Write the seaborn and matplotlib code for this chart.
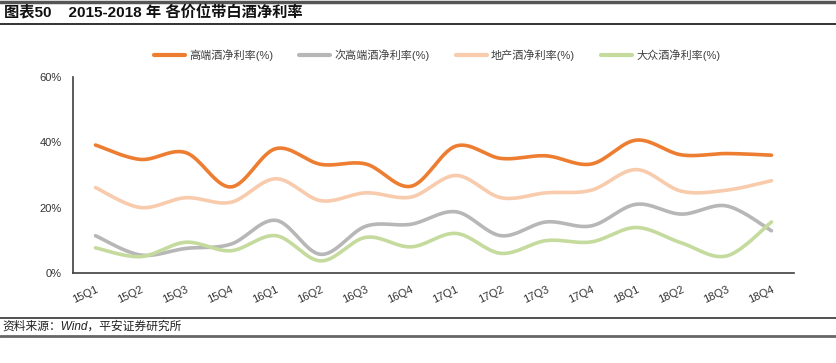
import numpy as np
import pandas as pd
import seaborn as sns
import matplotlib.pyplot as plt
from matplotlib.lines import Line2D

quarters = ["15Q1", "15Q2", "15Q3", "15Q4", "16Q1", "16Q2", "16Q3", "16Q4",
            "17Q1", "17Q2", "17Q3", "17Q4", "18Q1", "18Q2", "18Q3", "18Q4"]
high_end = [39.2, 34.8, 36.9, 26.4, 38.1, 33.3, 33.4, 26.6,
            38.9, 35.1, 35.9, 33.4, 40.7, 36.2, 36.6, 36.1]
sub_high = [11.5, 5.6, 7.6, 8.9, 16.2, 5.8, 14.4, 15.0,
            18.8, 11.5, 15.7, 14.5, 21.1, 18.1, 20.6, 13.0]
regional = [26.2, 20.1, 23.1, 21.7, 28.9, 22.2, 24.6, 23.3,
            29.9, 23.1, 24.6, 25.4, 31.7, 25.1, 25.4, 28.3]
mass = [7.8, 5.1, 9.5, 6.9, 11.5, 3.8, 11.0, 8.1,
        12.2, 6.1, 10.0, 9.6, 14.0, 9.3, 5.3, 15.7]

names = ["高端酒净利率(%)", "次高端酒净利率(%)", "地产酒净利率(%)", "大众酒净利率(%)"]
colors = ["#ED7D31", "#B7B7B7", "#F8CBAD", "#C5DB9E"]

sns.set_theme(style="white")
plt.rcParams['font.family'] = ['Liberation Sans', 'Noto Sans CJK SC']


def smooth(values, steps=20):
    # excel-like smoothed line (catmull-rom bezier)
    p = np.column_stack([np.arange(len(values)), values]).astype(float)
    p = np.vstack([p[0], p, p[-1]])
    out = []
    t = np.linspace(0, 1, steps)[:, None]
    for i in range(1, len(p) - 2):
        p0, p1, p2, p3 = p[i - 1], p[i], p[i + 1], p[i + 2]
        c1 = p1 + (p2 - p0) / 6
        c2 = p2 - (p3 - p1) / 6
        seg = ((1 - t) ** 3) * p1 + 3 * ((1 - t) ** 2) * t * c1 + 3 * (1 - t) * t ** 2 * c2 + t ** 3 * p2
        out.append(seg if i == 1 else seg[1:])
    seg = np.vstack(out)
    return seg[:, 0], seg[:, 1]


fig = plt.figure(figsize=(8.36, 3.63), dpi=100)
ax = fig.add_axes([0.0873, 0.247, 0.8625, 0.541])

frames = []
for name, vals in zip(names, [high_end, sub_high, regional, mass]):
    xs, ys = smooth(vals)
    frames.append(pd.DataFrame({"x": xs, "y": ys, "series": name}))
df = pd.concat(frames)

sns.lineplot(data=df, x="x", y="y", hue="series", palette=dict(zip(names, colors)),
             sort=False, estimator=None, linewidth=2.6, ax=ax, legend=False)

ax.set_xlim(-0.5, len(quarters) - 0.5)
ax.set_ylim(0, 60)
ax.set_xticks(range(len(quarters)))
ax.set_xticklabels(quarters, rotation=25, fontsize=8, color="#333333",
                   ha="right", rotation_mode="anchor")
ax.set_yticks([0, 20, 40, 60])
ax.set_yticklabels(["0%", "20%", "40%", "60%"], fontsize=8, color="#333333")
ax.tick_params(axis="y", length=0, pad=8)
ax.tick_params(axis="x", length=0, pad=8)
ax.set_xlabel("")
ax.set_ylabel("")
for s in ["top", "right"]:
    ax.spines[s].set_visible(False)
ax.spines["left"].set_color("#404040")
ax.spines["bottom"].set_color("#404040")
ax.spines["left"].set_linewidth(1.2)
ax.spines["bottom"].set_linewidth(1.2)

handles = [Line2D([0], [0], color=c, lw=3) for c in colors]
fig.legend(handles, names, loc="center", bbox_to_anchor=(0.523, 0.848), ncol=4,
           frameon=False, fontsize=8, handlelength=2.8, columnspacing=2.3,
           handletextpad=0.4, labelcolor="#404040")

# header / footer rules
fig.add_artist(Line2D([0, 1], [0.995, 0.995], color="#555555", lw=2.5))
fig.add_artist(Line2D([0, 1], [1 - 24 / 363, 1 - 24 / 363], color="#333333", lw=1.4))
fig.add_artist(Line2D([0, 1], [1 - 318 / 363, 1 - 318 / 363], color="#333333", lw=1.2))
fig.add_artist(Line2D([0, 1], [1 - 336 / 363, 1 - 336 / 363], color="#666666", lw=2))

fig.text(0.005, 1 - 13 / 363, "图表50    2015-2018 年 各价位带白酒净利率", fontsize=11,
         fontweight="bold", va="center", ha="left", color="#111111")
fig.text(0.003, 1 - 327 / 363, "资料来源：Wind，平安证券研究所", fontsize=8.5,
         style="italic", va="center", ha="left", color="#222222")

fig.savefig("out.png", dpi=100)
